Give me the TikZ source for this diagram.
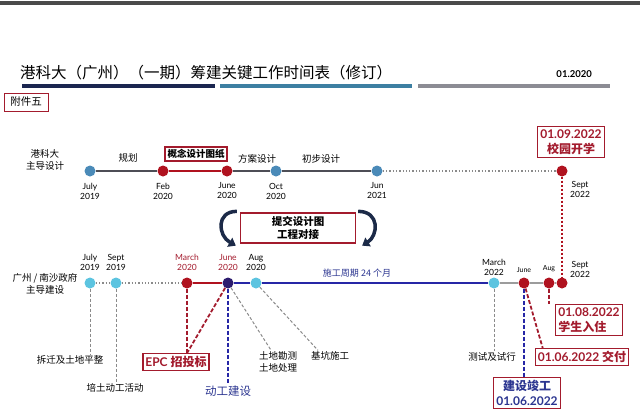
\documentclass[tikz,border=0pt]{standalone}
\usepackage{fontspec}
\setmainfont{Lato}
\newfontfamily\cjk{Noto Sans CJK SC}
\usetikzlibrary{positioning,arrows.meta}

\definecolor{boxred}{HTML}{A31B2D}
\definecolor{dotred}{HTML}{B0121F}
\definecolor{dotblue}{HTML}{4A8AB8}
\definecolor{dotcyan}{HTML}{5CC4E0}
\definecolor{dotnavy}{HTML}{2C1C6E}
\definecolor{buildblue}{HTML}{2626A6}
\definecolor{textnavy}{HTML}{2B3590}
\definecolor{linegray}{HTML}{4E4E56}
\definecolor{lightline}{HTML}{9C9C9C}
\definecolor{dashgray}{HTML}{8A8A8A}
\definecolor{barnavy}{HTML}{1B2650}
\definecolor{barteal}{HTML}{3D7FA2}
\definecolor{bargray}{HTML}{8C8C94}
\definecolor{topgray}{HTML}{4A4A4A}
\definecolor{arrownavy}{HTML}{1C2A48}

\begin{document}
\begin{tikzpicture}[x=1pt, y=-1pt]
    \tikzstyle{dot}=[circle, minimum size=11pt, inner sep=0pt]
    \tikzstyle{date}=[align=center, font=\fontsize{8.5}{10}\selectfont, inner sep=1pt]
    \tikzstyle{tag}=[align=center, font=\cjk\fontsize{9.5}{12.5}\selectfont, inner sep=1pt]
    \tikzstyle{redbox}=[draw=boxred, line width=1.3pt, fill=white, align=center, inner sep=3pt]
    \tikzstyle{gdash}=[draw=dashgray, line width=1pt, dash pattern=on 3pt off 2pt]
    \tikzstyle{rdash}=[draw=boxred, line width=1.8pt, dash pattern=on 4pt off 2pt]
    \tikzstyle{ndash}=[draw=buildblue, line width=1.8pt, dash pattern=on 4pt off 2pt]
    \tikzstyle{loop}=[draw=arrownavy, line width=3.5pt, -{Triangle[length=7pt, width=10pt]}]

    \useasboundingbox (0,0) rectangle (640,415);

    % header
    \fill[topgray] (0,1) rectangle (640,5);
    \node[anchor=west, font=\cjk\fontsize{15.5}{18}\selectfont, inner sep=0pt] (title) at (20,73) {港科大（广州）（一期）筹建关键工作时间表（修订）};
    \node[anchor=east, font=\bfseries\fontsize{9.5}{11}\selectfont, inner sep=0pt] (issue) at (592,74) {01.2020};
    \foreach \c/\a/\b in {barnavy/22/215, barteal/220/412, bargray/418/610}
    \fill[\c] (\a,84) rectangle (\b,88);
    \node[draw=boxred, line width=0.6pt, font=\cjk\fontsize{10.5}{12}\selectfont, inner sep=2pt, minimum height=18pt, minimum width=44pt] (annex) at (26,102) {附件五};

    % design timeline
    \foreach \name/\x/\c in {a/90/dotblue, b/163/dotred, c/227/dotred, d/276/dotblue, e/377/dotblue, f/562/dotred}
    \node[dot, fill=\c] (T1-\name) at (\x,171) {};

    \draw[line width=2pt, draw=linegray] (T1-a) -- (T1-b);
    \draw[line width=2pt, draw=dotred] (T1-b) -- (T1-c);
    \draw[line width=2pt, draw=linegray] (T1-c) -- (T1-d) -- (T1-e);
    \draw[dotted, line width=1.3pt, draw=dashgray] (T1-e) -- (T1-f);

    \foreach \name/\txt in {a/{July\\2019}, b/{Feb\\2020}, c/{June\\2020}, d/{Oct\\2020}, e/{Jun\\2021}}
    \node[date, below=5pt of T1-\name] (D1-\name) {\txt};
    \node[date, below right=5pt and 3pt of T1-f] (D1-f) {Sept\\2022};

    \node[tag] (who1) at (45,160) {港科大\\主导设计};
    \node[tag] (plan) at (128,158) {规划};
    \node[redbox, font=\cjk\bfseries\fontsize{9.5}{11}\selectfont, inner sep=2.5pt] (concept) at (196,154) {概念设计图纸};
    \node[tag] (scheme) at (257,159) {方案设计};
    \node[tag] (prelim) at (321,159) {初步设计};

    \node[redbox, text=boxred, font=\bfseries\fontsize{12}{15}\selectfont] (open) at (571,142) {01.09.2022\\{\cjk 校园开学}};

    % hand-over
    \node[redbox, font=\cjk\bfseries\fontsize{10.5}{13}\selectfont, minimum width=115pt, minimum height=30pt] (submit) at (298,228) {提交设计图\\工程对接};
    \draw[loop] ([shift={(-3,-1)}]submit.north west) .. controls ([shift={(-24,-1)}]submit.north west) and ([shift={(-22,-8)}]submit.south west) .. ([shift={(-4,2)}]submit.south west);
    \draw[loop] ([shift={(2,-1)}]submit.north east) .. controls ([shift={(24,-1)}]submit.north east) and ([shift={(22,-8)}]submit.south east) .. ([shift={(6,2)}]submit.south east);

    % construction timeline
    \foreach \name/\x/\c in {a/90/dotcyan, b/116/dotcyan, c/187/dotred, d/228/dotnavy, e/256/dotcyan, f/494/dotcyan, g/524/dotred, h/549/dotred, i/562/dotred}
    \node[dot, fill=\c] (T2-\name) at (\x,283) {};

    \draw[dotted, line width=2pt, draw=dotred] (T1-f) -- (T2-i);

    \draw[dotted, line width=1.3pt, draw=dashgray] (T2-a) -- (T2-b) -- (T2-c);
    \draw[line width=2.5pt, draw=dotred] (T2-c) -- (T2-d);
    \draw[line width=2.5pt, draw=buildblue] (T2-d) -- (T2-e) -- (T2-f);
    \draw[line width=2pt, draw=lightline] (T2-f) -- (T2-g) -- (T2-h) -- (T2-i);

    \foreach \name/\txt in {a/{July\\2019}, b/{Sept\\2019}, e/{Aug\\2020}}
    \node[date, above=6pt of T2-\name] (D2-\name) {\txt};
    \foreach \name/\txt in {c/{March\\2020}, d/{June\\2020}}
    \node[date, text=boxred, above=6pt of T2-\name] (D2-\name) {\txt};
    \node[date, above=1pt of T2-f] (D2-f) {March\\2022};
    \node[date, font=\fontsize{7}{8}\selectfont, above=4pt of T2-g] (D2-g) {June};
    \node[date, font=\fontsize{7}{8}\selectfont, above=4pt of T2-h] (D2-h) {Aug};
    \node[date, above right=0pt and 3pt of T2-i] (D2-i) {Sept\\2022};

    \node[tag] (who2) at (45,284) {广州 / 南沙政府\\主导建设};
    \node[tag, text=textnavy, font=\cjk\fontsize{9}{10}\selectfont] (period) at (357,273) {施工周期 24 个月};

    % milestones
    \node[tag] (clear) at (70,360) {拆迁及土地平整};
    \node[tag] (ground) at (115,388) {培土动工活动};
    \node[redbox, text=boxred, font=\bfseries\fontsize{12}{14}\selectfont, inner sep=2.5pt] (epc) at (176,362) {EPC {\cjk 招投标}};
    \node[tag, text=textnavy, font=\cjk\fontsize{11.5}{13}\selectfont] (start) at (228,391) {动工建设};
    \node[tag] (survey) at (278,362) {土地勘测\\土地处理};
    \node[tag] (pit) at (330,356) {基坑施工};
    \node[tag] (trial) at (492,357) {测试及试行};
    \node[redbox, text=boxred, font=\bfseries\fontsize{12}{15}\selectfont, align=left] (move) at (589,320) {01.08.2022\\{\cjk 学生入住}};
    \node[redbox, text=boxred, font=\bfseries\fontsize{12}{14}\selectfont, inner sep=2.5pt] (deliver) at (582,357) {01.06.2022 {\cjk 交付}};
    \node[redbox, text=textnavy, font=\bfseries\fontsize{12}{15}\selectfont] (done) at (527,393) {{\cjk 建设竣工}\\01.06.2022};

    \draw[gdash] (T2-a) -- (T2-a |- clear.north);
    \draw[gdash] (T2-b) -- (T2-b |- ground.north);
    \draw[rdash] (T2-c) -- (T2-c |- epc.north);
    \draw[rdash] (T2-d) -- (T2-c |- epc.north);
    \draw[ndash] (T2-d) -- (T2-d |- start.north);
    \draw[gdash] (T2-d) -- ([xshift=-7]survey.north);
    \draw[gdash] (T2-e) -- ([xshift=-12]pit.north);
    \draw[gdash] (T2-f) -- (T2-f |- trial.north);
    \draw[ndash] (T2-g) -- (T2-g |- done.north);
    \draw[rdash] (T2-g) -- ([xshift=8]deliver.north west);
    \draw[rdash] (T2-h) -- (T2-h |- move.north);
\end{tikzpicture}
\end{document}
